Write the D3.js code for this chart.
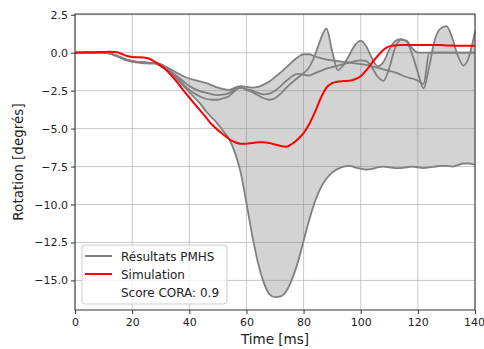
<!DOCTYPE html>
<html><head><meta charset="utf-8">
<script src="https://cdn.jsdelivr.net/npm/d3@7/dist/d3.min.js"></script>
<style>
body{margin:0;background:#fff;}
svg{display:block;font-family:"DejaVu Sans",sans-serif;}
</style></head>
<body><svg id="c" width="484" height="349"></svg>
<script>
const titleText = "Rotation de la tête autour de Y";
const xLabel = "Time [ms]";
const yLabel = "Rotation [degrés]";
const xTicks = [0,20,40,60,80,100,120,140];
const yTicks = [2.5,0,-2.5,-5,-7.5,-10,-12.5,-15];
const legendLabels = ["Résultats PMHS","Simulation","Score CORA: 0.9"];

// common time grid (ms)
const time = [0,2,4,6,8,10,12,14,16,18,20,22,24,26,28,30,32,34,36,38,40,42,44,46,48,50,52,54,56,58,60,62,64,66,68,70,72,74,76,78,80,82,84,86,88,90,92,94,96,98,100,102,104,106,108,110,112,114,116,118,120,122,124,126,128,130,132,134,136,138,140];

const pmhsA = [0,0,0,0,0,0,-0.05,-0.15,-0.3,-0.45,-0.55,-0.6,-0.65,-0.7,-0.7,-0.9,-1.1,-1.4,-1.8,-2.2,-2.6,-3.0,-3.4,-3.9,-4.3,-4.7,-5.2,-5.7,-6.6,-7.9,-9.9,-12.0,-13.8,-15.1,-15.9,-16.1,-16.05,-15.7,-14.9,-13.8,-12.4,-11.0,-9.8,-8.9,-8.3,-7.9,-7.65,-7.5,-7.45,-7.55,-7.65,-7.7,-7.65,-7.55,-7.5,-7.55,-7.6,-7.6,-7.55,-7.5,-7.55,-7.6,-7.55,-7.5,-7.45,-7.45,-7.5,-7.4,-7.3,-7.3,-7.4];
const pmhsB = [0,0,0,0,0,0,-0.05,-0.15,-0.3,-0.45,-0.55,-0.6,-0.65,-0.7,-0.7,-0.85,-1.05,-1.35,-1.7,-2.1,-2.45,-2.7,-2.9,-3.05,-3.1,-3.1,-3.0,-2.85,-2.5,-2.3,-2.4,-2.5,-2.65,-2.75,-2.7,-2.5,-2.2,-1.85,-1.55,-1.4,-1.45,-1.5,-1.35,-1.2,-1.05,-0.95,-0.85,-0.75,-0.65,-0.55,-0.5,-0.55,-1.0,-1.6,-1.85,-1.0,0.3,0.85,0.8,0.3,0,0,0,0,0,0,0,0,0,0,0];
const pmhsC = [0,0,0,0,0,0,-0.05,-0.2,-0.35,-0.5,-0.6,-0.65,-0.7,-0.7,-0.65,-0.75,-0.95,-1.15,-1.35,-1.55,-1.7,-1.8,-1.9,-2.0,-2.15,-2.3,-2.4,-2.45,-2.3,-2.2,-2.25,-2.3,-2.25,-2.1,-1.9,-1.6,-1.3,-0.95,-0.6,-0.3,-0.1,-0.1,-0.25,-0.35,-0.45,-0.5,-0.55,-0.6,-0.65,-0.7,-0.75,-0.8,-0.9,-1.0,-1.1,-1.2,-1.3,-1.45,-1.6,-1.7,-1.85,-2.05,0,0,0,0,0,0,0,0,0];
const pmhsF = [0,0,0,0,0,0,-0.05,-0.15,-0.3,-0.45,-0.55,-0.6,-0.6,-0.65,-0.7,-0.8,-1.0,-1.3,-1.6,-1.9,-2.2,-2.4,-2.55,-2.65,-2.75,-2.8,-2.75,-2.65,-2.4,-2.3,-2.45,-2.6,-2.8,-3.0,-3.1,-3.0,-2.7,-2.3,-1.95,-1.65,-1.35,-0.95,-0.15,0.9,1.6,0.1,-1.15,-0.8,-0.15,0.5,0.8,0.4,-0.4,-0.9,-0.6,0.2,0.75,0.9,0.75,-0.1,-1.3,-2.35,-0.9,0.9,1.6,1.75,1.0,-0.2,-0.85,-0.2,1.4];
const simulation = [0,0.02,0.03,0.03,0.04,0.05,0.06,0.05,-0.05,-0.2,-0.28,-0.3,-0.32,-0.4,-0.6,-0.85,-1.15,-1.55,-2.0,-2.5,-2.95,-3.4,-3.85,-4.3,-4.75,-5.1,-5.4,-5.7,-5.9,-6.0,-6.0,-5.95,-5.9,-5.9,-5.95,-6.05,-6.15,-6.2,-6.0,-5.7,-5.3,-4.7,-3.9,-3.0,-2.3,-2.0,-1.9,-1.87,-1.85,-1.75,-1.55,-1.15,-0.65,-0.2,0.2,0.42,0.48,0.5,0.5,0.5,0.5,0.5,0.5,0.5,0.5,0.48,0.47,0.46,0.46,0.46,0.46];

const pmhs = [pmhsA, pmhsB, pmhsC, pmhsF];

const svg = d3.select("#c");
const L = 75, R = 475, T = 14, B = 310;
const x = d3.scaleLinear().domain([0,140]).range([L,R]);
const y = d3.scaleLinear().domain([-16.95,2.55]).range([B,T]);

// title (mostly outside the window, as in the reference)
svg.append("text").attr("x",250).attr("y",-1.5).attr("text-anchor","middle")
  .attr("font-size",14).attr("fill","#222").text(titleText);

// grid
const g = svg.append("g");
g.selectAll(".gx").data(xTicks).join("line")
  .attr("x1",d=>x(d)).attr("x2",d=>x(d)).attr("y1",T).attr("y2",B)
  .attr("stroke","#b0b0b0").attr("stroke-opacity",0.7).attr("stroke-width",1);
g.selectAll(".gy").data(yTicks).join("line")
  .attr("y1",d=>y(d)).attr("y2",d=>y(d)).attr("x1",L).attr("x2",R)
  .attr("stroke","#b0b0b0").attr("stroke-opacity",0.7).attr("stroke-width",1);

const env = time.map((t,i)=>({t, lo:d3.min(pmhs,s=>s[i]), hi:d3.max(pmhs,s=>s[i])}));
const curve = d3.curveMonotoneX;
svg.append("path").datum(env)
  .attr("d", d3.area().x(d=>x(d.t)).y0(d=>y(d.lo)).y1(d=>y(d.hi)).curve(curve))
  .attr("fill","#808080").attr("fill-opacity",0.35);

const line = d3.line().x((d,i)=>x(time[i])).y(d=>y(d)).curve(curve);
pmhs.forEach(s=>{
  svg.append("path").datum(s).attr("d",line).attr("fill","none")
    .attr("stroke","#808080").attr("stroke-width",1.8);
});
svg.append("path").datum(simulation).attr("d",line).attr("fill","none")
  .attr("stroke","#ff0000").attr("stroke-width",2);

// frame
svg.append("rect").attr("x",L).attr("y",T).attr("width",R-L).attr("height",B-T)
  .attr("fill","none").attr("stroke","#333").attr("stroke-width",1);

// axes
const xa = svg.append("g").attr("transform",`translate(0,${B})`)
  .call(d3.axisBottom(x).tickValues(xTicks).tickSize(4).tickPadding(4).tickFormat(d3.format("d")));
const ya = svg.append("g").attr("transform",`translate(${L},0)`)
  .call(d3.axisLeft(y).tickValues(yTicks).tickSize(4).tickPadding(3).tickFormat(d=>d3.format(".1f")(d).replace("-","\u2212")));
[xa,ya].forEach(a=>{
  a.select(".domain").remove();
  a.selectAll("line").attr("stroke","#333");
  a.selectAll("text").attr("font-size",11).attr("fill","#222").attr("font-family","DejaVu Sans, sans-serif");
});
xa.selectAll(".tick text").filter(d=>d===140).attr("text-anchor","end").attr("dx","9.5");

svg.append("text").attr("x",(L+R)/2).attr("y",344).attr("text-anchor","middle")
  .attr("font-size",13.5).attr("fill","#222").text(xLabel);
svg.append("text").attr("transform",`translate(23,${(T+B)/2}) rotate(-90)`)
  .attr("text-anchor","middle").attr("font-size",13.5).attr("fill","#222").text(yLabel);

// legend
const lg = svg.append("g");
lg.append("rect").attr("x",82).attr("y",245).attr("width",145).attr("height",59).attr("rx",3)
  .attr("fill","#fff").attr("fill-opacity",0.8).attr("stroke","#cccccc");
const lc = ["#808080","#ff0000",null];
legendLabels.forEach((t,i)=>{
  const yy = 256 + i*18;
  if(lc[i]) lg.append("line").attr("x1",85).attr("x2",112).attr("y1",yy).attr("y2",yy)
    .attr("stroke",lc[i]).attr("stroke-width",2);
  lg.append("text").attr("x",121).attr("y",yy+4.5).attr("font-size",12).attr("fill","#222").text(t);
});
</script></body></html>
